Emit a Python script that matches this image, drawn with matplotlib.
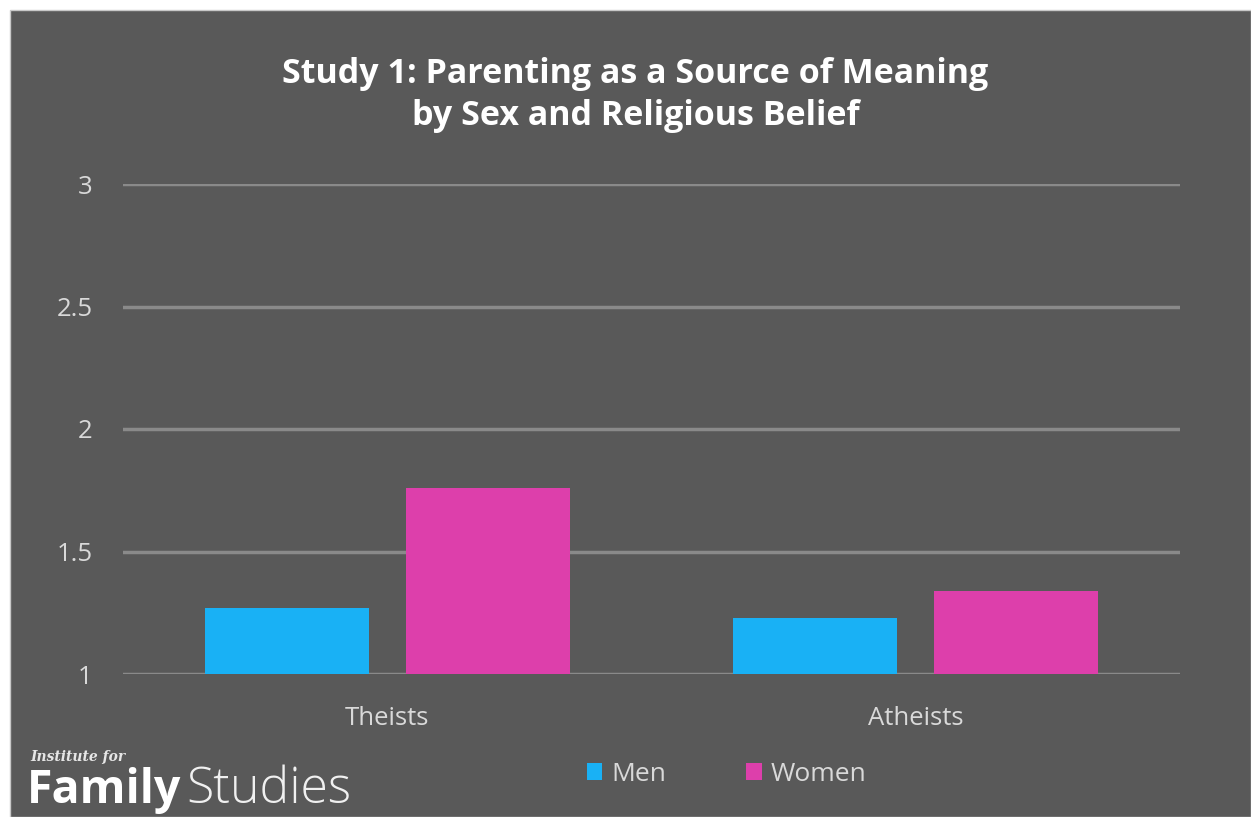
import matplotlib
matplotlib.use("Agg")
import matplotlib.pyplot as plt
from matplotlib.patches import Rectangle
import numpy as np

categories = ["Theists", "Atheists"]
men = [1.27, 1.23]
women = [1.76, 1.34]
yticks = [1, 1.5, 2, 2.5, 3]
yticklabels = ["1", "1.5", "2", "2.5", "3"]

BG = "#595959"
TXT = "#d9d9d9"
GRID = "#8a8a8a"
BLUE = "#19b1f5"
PINK = "#dd3fab"

plt.rcParams["font.family"] = ["Open Sans", "DejaVu Sans"]

fig = plt.figure(figsize=(12.51, 8.17), dpi=100)
fig.patch.set_facecolor("white")
fig.patches.append(Rectangle((10 / 1251, 0), 1 - 10 / 1251, 1 - 10 / 817,
                             transform=fig.transFigure, facecolor=BG,
                             edgecolor="#c8c8c8", lw=1, zorder=-5))

ax = fig.add_axes([123 / 1251, 1 - 674 / 817, (1180 - 123) / 1251, (674 - 184) / 817])
ax.set_facecolor("none")
ax.set_zorder(2)

x = np.arange(len(categories))
w = 0.31
ax.bar(x - 0.19, np.array(men) - 1, w, bottom=1, color=BLUE, label="Men", zorder=3)
ax.bar(x + 0.19, np.array(women) - 1, w, bottom=1, color=PINK, label="Women", zorder=3)

ax.set_xlim(-0.5, 1.5)
ax.set_ylim(1, 3)
ax.set_yticks(yticks)
ax.set_yticklabels(yticklabels)
ax.set_xticks(x)
ax.set_xticklabels(categories)
ax.tick_params(length=0, colors=TXT, labelsize=18.5)
ax.tick_params(axis="y", pad=22)
ax.tick_params(axis="x", pad=23)
for lab in ax.get_yticklabels() + ax.get_xticklabels():
    lab.set_color(TXT)
ax.yaxis.grid(True, color=GRID, lw=2.5, zorder=0)
ax.set_axisbelow(True)
for s in ax.spines.values():
    s.set_visible(False)

fig.text(0.508, 1 - 95 / 817, "Study 1: Parenting as a Source of Meaning\nby Sex and Religious Belief",
         ha="center", va="center", color="white", fontsize=24.5, fontweight="bold",
         linespacing=1.3)

leg = fig.legend(loc="center", bbox_to_anchor=(726 / 1251, 1 - 775 / 817, 0.001, 0.001),
                 ncol=2, frameon=False, fontsize=19, handlelength=0.6, handleheight=0.6,
                 handletextpad=0.35, columnspacing=3.0)
for t in leg.get_texts():
    t.set_color(TXT)

# logo
fig.text(30 / 1251, 1 - 757 / 817, "Institute for", color="#e6e6e6", fontsize=10,
         fontstyle="italic", fontweight="bold", family="DejaVu Serif", va="center")
fig.text(27 / 1251, 1 - 790 / 817, "Family", color="white", fontsize=33.5,
         fontweight="bold", va="center")
fig.text(186 / 1251, 1 - 790 / 817, "Studies", color="#f0f0f0", fontsize=36,
         fontweight="light", va="center")

fig.savefig("out.png", dpi=100, facecolor=fig.get_facecolor())
